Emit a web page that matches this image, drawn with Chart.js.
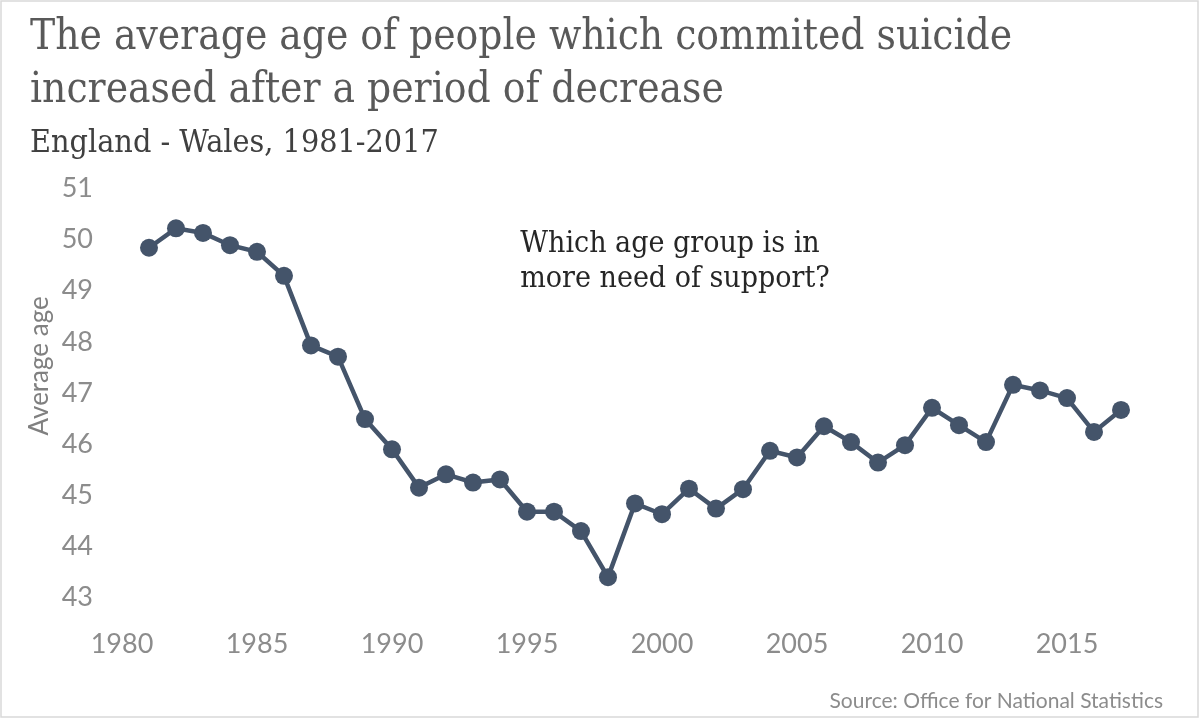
<!DOCTYPE html>
<html lang="en">
<head>
    <meta charset="utf-8" />
    <title>Average age of suicide, England - Wales</title>
    <style>
        html, body { margin: 0; padding: 0; background: #fff; }
        #wrap { width: 1200px; height: 720px; }
    </style>
</head>
<body>
    <div id="wrap"><canvas id="ageChart" width="1200" height="720"></canvas></div>
    <script src="https://cdn.jsdelivr.net/npm/chart.js"></script>
    <script>
        // data
        var years = [1981, 1982, 1983, 1984, 1985, 1986, 1987, 1988, 1989, 1990,
                     1991, 1992, 1993, 1994, 1995, 1996, 1997, 1998, 1999, 2000,
                     2001, 2002, 2003, 2004, 2005, 2006, 2007, 2008, 2009, 2010,
                     2011, 2012, 2013, 2014, 2015, 2016, 2017];
        var avgAge = [49.84, 50.22, 50.13, 49.89, 49.76, 49.29, 47.93, 47.71, 46.49, 45.90,
                      45.15, 45.41, 45.25, 45.31, 44.68, 44.68, 44.30, 43.40, 44.84, 44.63,
                      45.13, 44.74, 45.12, 45.87, 45.74, 46.35, 46.04, 45.64, 45.98, 46.71,
                      46.37, 46.04, 47.16, 47.05, 46.90, 46.24, 46.67];
        var xTicks = [1980, 1985, 1990, 1995, 2000, 2005, 2010, 2015];
        var yTicks = [43, 44, 45, 46, 47, 48, 49, 50, 51];

        var titleLines = ['The average age of people which commited suicide',
                          'increased after a period of decrease'];
        var subtitleText = 'England - Wales, 1981-2017';
        var noteLines = ['Which age group is in', 'more need of support?'];
        var yAxisTitle = 'Average age';
        var sourceText = 'Source: Office for National Statistics';

        var serif = '"DejaVu Serif Condensed", "DejaVu Serif", serif';
        var sans = 'Lato, "Open Sans", sans-serif';
        var tickGray = '#8c8c8c';
        var lineColor = '#44546a';

        // background, frame, note, axis title and source line
        var extras = {
            id: 'extras',
            beforeDraw: function (chart) {
                var ctx = chart.ctx;
                ctx.save();
                ctx.fillStyle = '#fff';
                ctx.fillRect(0, 0, chart.width, chart.height);
                ctx.restore();
            },
            afterDraw: function (chart) {
                var ctx = chart.ctx;
                var xs = chart.scales.x, ys = chart.scales.y;
                ctx.save();

                ctx.fillStyle = '#262626';
                ctx.font = '30px ' + serif;
                ctx.textAlign = 'left';
                ctx.textBaseline = 'alphabetic';
                var nx = xs.getPixelForValue(1994.75);
                var ny = ys.getPixelForValue(49.75);
                ctx.fillText(noteLines[0], nx, ny);
                ctx.fillText(noteLines[1], nx, ny + 35);

                ctx.save();
                ctx.translate(40, ys.getPixelForValue(47.53));
                ctx.rotate(-Math.PI / 2);
                ctx.fillStyle = '#808080';
                ctx.font = '26px ' + sans;
                ctx.textAlign = 'center';
                ctx.textBaseline = 'middle';
                ctx.fillText(yAxisTitle, 0, 0);
                ctx.restore();

                ctx.fillStyle = tickGray;
                ctx.font = '21px ' + sans;
                ctx.textAlign = 'right';
                ctx.textBaseline = 'alphabetic';
                ctx.fillText(sourceText, 1163, 708);

                ctx.strokeStyle = '#d9d9d9';
                ctx.lineWidth = 1.5;
                ctx.strokeRect(1, 1, chart.width - 3, chart.height - 4);
                ctx.restore();
            }
        };

        var ctx = document.getElementById('ageChart').getContext('2d');
        var ageChart = new Chart(ctx, {
            type: 'line',
            data: {
                datasets: [{
                    label: yAxisTitle,
                    data: years.map(function (yr, i) { return { x: yr, y: avgAge[i] }; }),
                    borderColor: lineColor,
                    backgroundColor: lineColor,
                    borderWidth: 4.5,
                    pointRadius: 9,
                    pointBorderWidth: 0,
                    tension: 0
                }]
            },
            options: {
                responsive: false,
                animation: false,
                layout: { padding: { left: 30, right: 25, top: 12, bottom: 30 } },
                plugins: {
                    legend: { display: false },
                    tooltip: { enabled: false },
                    title: {
                        display: true,
                        text: titleLines,
                        align: 'start',
                        color: '#595959',
                        font: { family: serif, size: 42, weight: 'normal', lineHeight: 1.262 },
                        padding: { top: 0, bottom: 6 }
                    },
                    subtitle: {
                        display: true,
                        text: subtitleText,
                        align: 'start',
                        color: '#404040',
                        font: { family: serif, size: 32, weight: 'normal', lineHeight: 1.2 },
                        padding: { top: 0, bottom: 26 }
                    }
                },
                scales: {
                    x: {
                        type: 'linear',
                        min: 1980,
                        max: 2019,
                        grid: { display: false, drawTicks: false },
                        border: { display: false },
                        afterBuildTicks: function (axis) {
                            axis.ticks = xTicks.map(function (v) { return { value: v }; });
                        },
                        ticks: {
                            padding: 30,
                            color: tickGray,
                            maxRotation: 0,
                            autoSkip: false,
                            font: { family: sans, size: 27 },
                            callback: function (v) { return String(v); }
                        }
                    },
                    y: {
                        min: 43,
                        max: 51,
                        grid: { display: false, drawTicks: false },
                        border: { display: false },
                        afterBuildTicks: function (axis) {
                            axis.ticks = yTicks.map(function (v) { return { value: v }; });
                        },
                        afterFit: function (axis) { axis.width = 92; },
                        ticks: {
                            padding: 29,
                            color: tickGray,
                            font: { family: sans, size: 27 }
                        }
                    }
                }
            },
            plugins: [extras]
        });
    </script>
</body>
</html>
